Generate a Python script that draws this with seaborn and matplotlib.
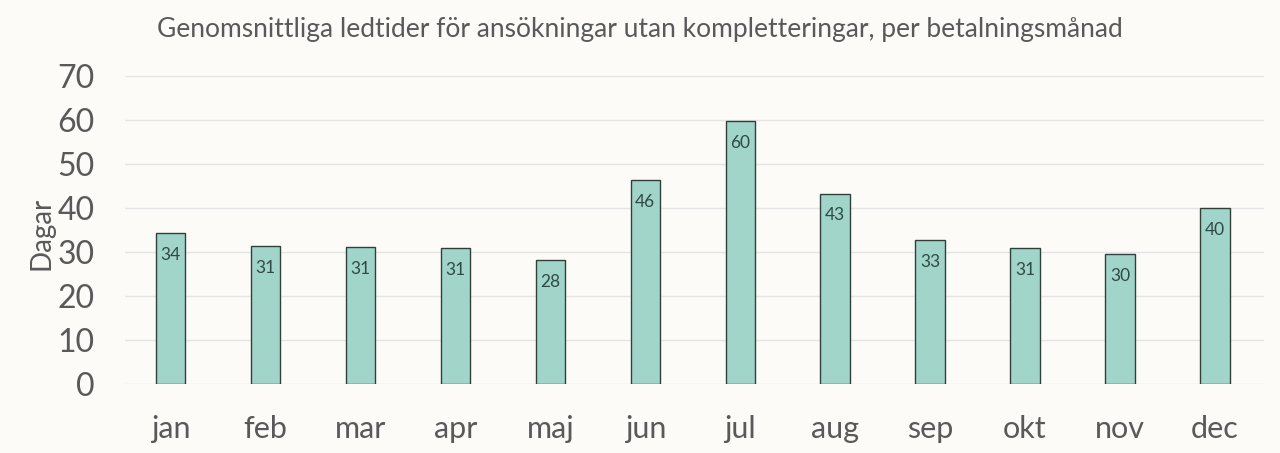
import matplotlib
matplotlib.use("Agg")
import matplotlib.pyplot as plt
import seaborn as sns
import pandas as pd

months = ["jan", "feb", "mar", "apr", "maj", "jun", "jul", "aug", "sep", "okt", "nov", "dec"]
days = [34.4, 31.3, 31.2, 30.9, 28.2, 46.4, 59.8, 43.3, 32.7, 31.0, 29.6, 40.1]
labels = ["34", "31", "31", "31", "28", "46", "60", "43", "33", "31", "30", "40"]
yticks = [0, 10, 20, 30, 40, 50, 60, 70]

title = "Genomsnittliga ledtider för ansökningar utan kompletteringar, per betalningsmånad"

sns.set_theme(style="white")
plt.rcParams['font.family'] = ['Lato', 'DejaVu Sans']

bg = "#FCFBF8"
txt = "#595959"

df = pd.DataFrame({"month": months, "days": days})

fig = plt.figure(figsize=(12.8, 4.53), dpi=100, facecolor=bg)
ax = fig.add_axes([0.0977, 0.152, 0.890, 0.680])
ax.set_facecolor(bg)

sns.barplot(data=df, x="month", y="days", color="#A2D5CA", edgecolor="#2F3F3A",
            linewidth=1.0, width=0.31, saturation=1, ax=ax, zorder=3)

ax.set_ylim(0, 70)
ax.set_xlim(-0.48, 11.52)
ax.set_yticks(yticks)
ax.set_yticklabels([str(t) for t in yticks], fontsize=23, color=txt)
ax.tick_params(axis="x", labelsize=22, labelcolor=txt, pad=22, length=0)
ax.tick_params(axis="y", length=0, pad=22)
ax.yaxis.grid(True, color="#E4E4E4", linewidth=1.0, zorder=0)
ax.set_axisbelow(True)
for s in ax.spines.values():
    s.set_visible(False)
ax.set_xlabel("")
ax.set_ylabel("Dagar", fontsize=20, color=txt)
ax.yaxis.set_label_coords(-0.062, 0.49)

for i, (v, lab) in enumerate(zip(days, labels)):
    ax.annotate(lab, (i, v), xytext=(0, -10), textcoords="offset points",
                ha="center", va="top", fontsize=12.5, color="#2F4A44", zorder=4)

fig.text(0.5, 0.935, title, ha="center", va="center", fontsize=19, color=txt)

fig.savefig("out.png", dpi=100, facecolor=bg)
